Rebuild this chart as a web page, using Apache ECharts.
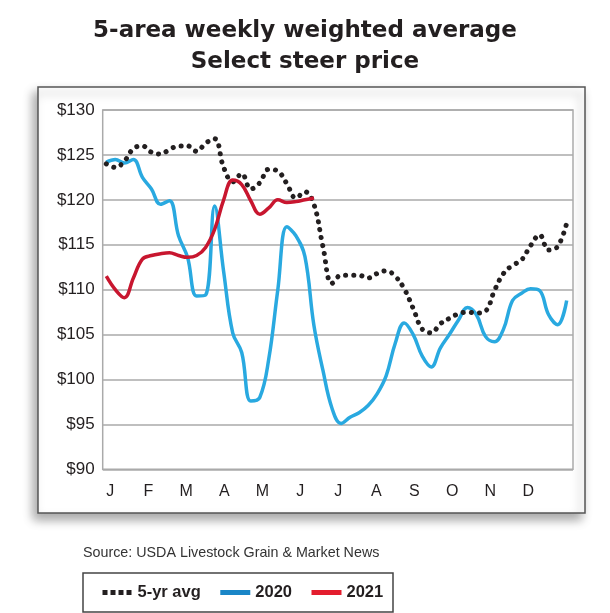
<!DOCTYPE html>
<html>
<head>
<meta charset="utf-8">
<script src="https://cdn.jsdelivr.net/npm/echarts@6/dist/echarts.min.js"></script>
<style>
  html, body { margin: 0; padding: 0; background: #fff; }
  #chart { width: 610px; height: 613px; }
</style>
</head>
<body>
<div id="chart"></div>
<script>
// months shown on the x axis (weekly data, 52 weeks)
const months = ["J", "F", "M", "A", "M", "J", "J", "A", "S", "O", "N", "D"];

// 5-year average, weekly
const avg5yr = [
  124.0, 123.6, 124.3, 125.7, 126.0, 125.3, 125.1, 125.6, 126.0, 126.0,
  125.4, 126.3, 126.8, 123.6, 122.0, 122.9, 121.2, 121.9, 123.4, 123.2,
  121.8, 120.2, 120.9, 119.5, 114.8, 110.7, 111.6, 111.6, 111.6, 111.3,
  111.8, 112.1, 111.5, 110.1, 107.9, 105.6, 105.2, 106.2, 106.8, 107.3,
  107.5, 107.4, 107.6, 109.9, 111.8, 112.7, 113.3, 114.9, 116.1, 114.4,
  114.8, 117.4
];

// 2020, weekly
const y2020 = [
  124.2, 124.5, 124.1, 124.5, 122.5, 121.2, 119.5, 119.9, 116.0, 113.6,
  109.3, 109.4, 119.3, 112.0, 105.2, 103.0, 97.6, 98.0, 102.3, 110.0,
  117.0, 116.0, 113.7, 106.0, 101.0, 96.8, 95.1, 95.8, 96.3, 97.1,
  98.4, 100.4, 104.0, 106.3, 105.0, 102.6, 101.4, 103.5, 105.0, 106.6,
  108.0, 107.2, 104.8, 104.2, 105.6, 108.8, 109.6, 110.1, 109.9, 107.2,
  106.1, 108.8
];

// 2021, weekly (year to date)
const y2021 = [
  111.5, 110.0, 109.1, 111.3, 113.4, 113.8, 114.0, 114.1, 113.8, 113.6,
  113.8, 114.7, 116.7, 120.0, 122.2, 121.7, 119.9, 118.4, 119.1, 120.0,
  119.7, 119.8, 120.0, 120.2
];

const toPoints = (arr) => arr.map((v, i) => [i, v]);

// week position of each month letter
const monthWeeks = months.map((m, i) => 0.44 + i * 4.21);

const font = "Liberation Sans, Arial, sans-serif";
const ink = "#231f20";

const chart = echarts.init(document.getElementById("chart"));

chart.setOption({
  animation: false,
  backgroundColor: "#fff",
  title: {
    text: "5-area weekly weighted average\nSelect steer price",
    left: "center",
    top: 11,
    textStyle: {
      fontFamily: "DejaVu Sans",
      fontWeight: "bold",
      fontSize: 23,
      lineHeight: 31,
      color: ink,
    },
  },
  graphic: [
    {
      type: "rect",
      z: -10,
      shape: { x: 38, y: 87, width: 547, height: 426 },
      style: {
        fill: "#fff",
        stroke: "#555",
        lineWidth: 1.5,
        shadowBlur: 10,
        shadowColor: "rgba(0,0,0,0.35)",
        shadowOffsetX: -4,
        shadowOffsetY: 6,
      },
    },
    {
      type: "text",
      left: 83,
      top: 546,
      style: {
        text: "Source: USDA Livestock Grain & Market News",
        font: "14.3px " + font,
        fill: "#333",
      },
    },
    {
      type: "rect",
      z: -10,
      shape: { x: 83, y: 573, width: 310, height: 39 },
      style: { fill: "#fff", stroke: "#444", lineWidth: 1.5 },
    },
  ],
  legend: {
    left: 100,
    top: 584,
    padding: 0,
    itemWidth: 30,
    itemHeight: 14,
    itemGap: 17,
    itemStyle: { opacity: 0 },
    textStyle: {
      fontFamily: "Liberation Sans Narrow, Liberation Sans, sans-serif",
      fontWeight: "bold",
      fontSize: 16.5,
      color: ink,
    },
    data: [
      { name: "5-yr avg", lineStyle: { type: [5, 3], width: 5, cap: "butt", color: ink } },
      { name: "2020", lineStyle: { width: 5, color: "#1a86c7" } },
      { name: "2021", lineStyle: { width: 5, color: "#e31d2e" } },
    ],
  },
  grid: {
    left: 102.7,
    right: 37,
    top: 110,
    bottom: 143.7,
    show: true,
    borderColor: "#aaa",
    borderWidth: 1.5,
  },
  xAxis: {
    type: "value",
    min: -0.4,
    max: 51.7,
    axisLine: { show: false },
    axisTick: { show: false },
    splitLine: { show: false },
    axisLabel: {
      customValues: monthWeeks,
      margin: 14,
      fontFamily: font,
      fontSize: 16,
      color: ink,
      formatter: (v) => {
        let best = 0;
        monthWeeks.forEach((w, i) => {
          if (Math.abs(w - v) < Math.abs(monthWeeks[best] - v)) best = i;
        });
        return months[best];
      },
    },
  },
  yAxis: {
    type: "value",
    min: 90,
    max: 130,
    interval: 5,
    axisLine: { show: false },
    axisTick: { show: false },
    splitLine: { lineStyle: { color: "#aaa", width: 1.5 } },
    axisLabel: {
      margin: 8,
      fontFamily: font,
      fontSize: 17,
      color: ink,
      formatter: "${value}",
    },
  },
  series: [
    {
      name: "5-yr avg",
      type: "line",
      data: toPoints(avg5yr),
      smooth: 0.4,
      symbol: "none",
      z: 3,
      lineStyle: { color: ink, width: 5, type: [0.1, 8], cap: "round" },
      itemStyle: { color: ink },
    },
    {
      name: "2020",
      type: "line",
      data: toPoints(y2020),
      smooth: 0.4,
      symbol: "none",
      z: 2,
      lineStyle: { color: "#29a9e0", width: 3.5 },
      itemStyle: { color: "#1a86c7" },
    },
    {
      name: "2021",
      type: "line",
      data: toPoints(y2021),
      smooth: 0.4,
      symbol: "none",
      z: 4,
      lineStyle: { color: "#c8162f", width: 3.5 },
      itemStyle: { color: "#e31d2e" },
    },
  ],
});
</script>
</body>
</html>
